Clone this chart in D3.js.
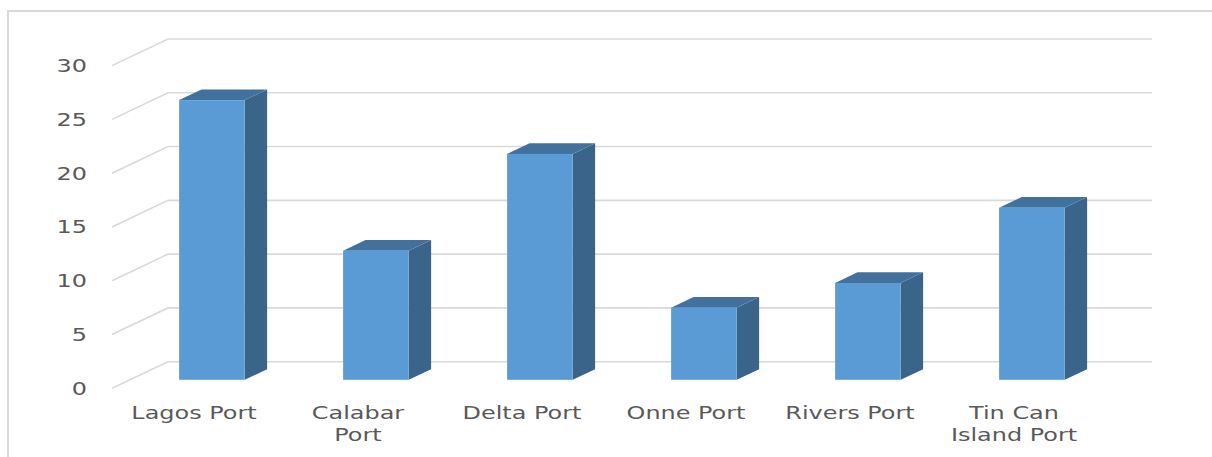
<!DOCTYPE html>
<html>
<head>
<meta charset="utf-8">
<script src="https://cdn.jsdelivr.net/npm/d3@7"></script>
<style>
  html, body { margin: 0; padding: 0; background: #fff; }
  svg { display: block; }
</style>
</head>
<body>
<svg id="chart" width="1212" height="457"></svg>
<script>
// Port values (3D clustered column)
const categories = [["Lagos Port"], ["Calabar", "Port"], ["Delta Port"], ["Onne Port"], ["Rivers Port"], ["Tin Can", "Island Port"]];
const values = [26, 12, 21, 6.7, 9, 16];
const yTicks = [0, 5, 10, 15, 20, 25, 30];

const svg = d3.select("#chart");

// Floor front-left corner and depth vector of the oblique projection
const x0 = 112, floorY = 388.3;
const depth = { dx: 56, dy: -26.6 };
const plotW = 984;

const x = d3.scaleBand()
  .domain(categories.map(c => c.join(" ")))
  .range([x0, x0 + plotW])
  .paddingInner(0).paddingOuter(0);

const h = d3.scaleLinear().domain([0, 30]).range([0, 322.7]);

// Chart area border
svg.append("rect")
  .attr("x", 8).attr("y", 11).attr("width", 1230).attr("height", 470)
  .attr("fill", "none").attr("stroke", "#d9d9d9").attr("stroke-width", 2);

// Gridlines: diagonal side wall + horizontal back wall
const grid = svg.append("g").attr("stroke", "#d9d9d9").attr("stroke-width", 1.6).attr("fill", "none");
yTicks.forEach(t => {
  const yf = floorY - h(t);
  grid.append("path")
    .attr("d", `M${x0},${yf}L${x0 + depth.dx},${yf + depth.dy}L${x0 + depth.dx + plotW},${yf + depth.dy}`);
});

// Y tick labels
svg.append("g").selectAll("text").data(yTicks).join("text")
  .attr("transform", d => `translate(87,${floorY - h(d) + 6.5}) scale(1.33,1)`)
  .attr("text-anchor", "end")
  .attr("font-family", "DejaVu Sans")
  .attr("font-size", 18)
  .attr("fill", "#595959")
  .text(d => d);

// Bars: front, side and top faces
const t0 = 0.32, t1 = 0.72;
const barFrac = 0.4;
const bars = svg.append("g");
categories.forEach((c, i) => {
  const key = c.join(" ");
  const bw = x.bandwidth() * barFrac;
  const left = x(key) + (x.bandwidth() - bw) / 2 + t0 * depth.dx;
  const right = left + bw;
  const base = floorY + t0 * depth.dy;
  const top = base - h(values[i]);
  const ddx = (t1 - t0) * depth.dx, ddy = (t1 - t0) * depth.dy;

  bars.append("path")
    .attr("d", `M${right},${base}L${right + ddx},${base + ddy}L${right + ddx},${top + ddy}L${right},${top}Z`)
    .attr("fill", "#3a6489");
  bars.append("path")
    .attr("d", `M${left},${top}L${left + ddx},${top + ddy}L${right + ddx},${top + ddy}L${right},${top}Z`)
    .attr("fill", "#43719e");
  bars.append("rect")
    .attr("x", left).attr("y", top).attr("width", bw).attr("height", base - top)
    .attr("fill", "#5b9bd5");
});

// Category labels
const labels = svg.append("g");
categories.forEach(c => {
  const cx = x(c.join(" ")) + x.bandwidth() / 2;
  c.forEach((line, j) => {
    labels.append("text")
      .attr("transform", `translate(${cx},${418.5 + j * 22.4}) scale(1.33,1)`)
      .attr("text-anchor", "middle")
      .attr("font-family", "DejaVu Sans")
      .attr("font-size", 18)
      .attr("fill", "#595959")
      .text(line);
  });
});
</script>
</body>
</html>
